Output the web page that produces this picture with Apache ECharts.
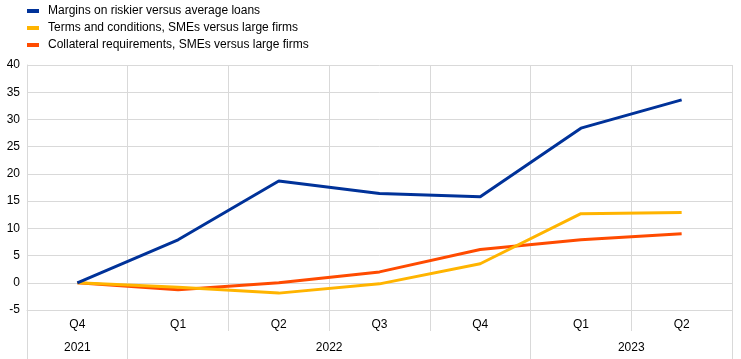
<!DOCTYPE html>
<html><head><meta charset="utf-8">
<script src="https://cdn.jsdelivr.net/npm/echarts@6/dist/echarts.min.js"></script>
<style>html,body{margin:0;padding:0;background:#fff}#c{width:741px;height:359px}</style>
</head><body><div id="c"></div>
<script>
const quarters = ['Q4','Q1','Q2','Q3','Q4','Q1','Q2'];
const years = ['2021','2022','2023'];
// year row on a half-quarter grid (0..14): label slots and boundary slots
const yearLabelSlots = [1, 6, 12];
const yearBoundarySlots = [0, 2, 10, 14];
const margins = [0, 7.9, 18.7, 16.4, 15.8, 28.4, 33.6];
const terms = [0, -0.8, -1.9, -0.2, 3.5, 12.7, 12.9];
const collateral = [0, -1.3, 0, 2.0, 6.1, 7.9, 9.0];
const names = ['Margins on riskier versus average loans','Terms and conditions, SMEs versus large firms','Collateral requirements, SMEs versus large firms'];
const colors = ['#003299','#ffb400','#ff4b00'];
const font = 'Liberation Sans, Arial, sans-serif';
const grey = '#d9d9d9';
const halfSlots = Array.from({length:15},(_, k)=>{const i=yearLabelSlots.indexOf(k);return i>=0?years[i]:'s'+k;});
const chart = echarts.init(document.getElementById('c'));
chart.setOption({
  animation:false,
  color: colors,
  textStyle:{fontFamily:font},
  legend:{orient:'vertical',left:22,top:0,itemGap:5,itemWidth:12,itemHeight:4,icon:'rect',
    textStyle:{fontSize:12,color:'#000',fontFamily:font,padding:[0,0,0,4]},data:names},
  grid:{left:27,right:9,top:65,bottom:49,containLabel:false},
  xAxis:[{type:'category',data:quarters,boundaryGap:true,
    axisLine:{show:true,onZero:false,lineStyle:{color:grey}},
    axisTick:{show:true,inside:false,length:21,lineStyle:{color:grey}},
    axisLabel:{margin:9,fontSize:12,color:'#000',fontFamily:font},
    splitLine:{show:true,lineStyle:{color:grey}}},
   {type:'category',data:halfSlots,boundaryGap:false,position:'bottom',offset:21,
    axisLine:{show:true,onZero:false,lineStyle:{color:'rgba(0,0,0,0)',width:0}},
    axisTick:{show:true,length:28,interval:function(idx){return yearBoundarySlots.indexOf(idx)>=0;},lineStyle:{color:grey,width:1}},
    axisLabel:{margin:11,fontSize:12,color:'#000',fontFamily:font,
      interval:function(idx){return yearLabelSlots.indexOf(idx)>=0;}},
    splitLine:{show:false}}],
  yAxis:{type:'value',min:-5,max:40,interval:5,
    axisLine:{show:true,lineStyle:{color:grey}},axisTick:{show:false},
    axisLabel:{fontSize:12,color:'#000',fontFamily:font,margin:7},
    splitLine:{show:true,lineStyle:{color:grey}}},
  series:[margins,terms,collateral].map((d,i)=>({name:names[i],type:'line',data:d,xAxisIndex:0,
    symbol:'none',lineStyle:{width:3,color:colors[i]},z:3-i}))
});
</script></body></html>
